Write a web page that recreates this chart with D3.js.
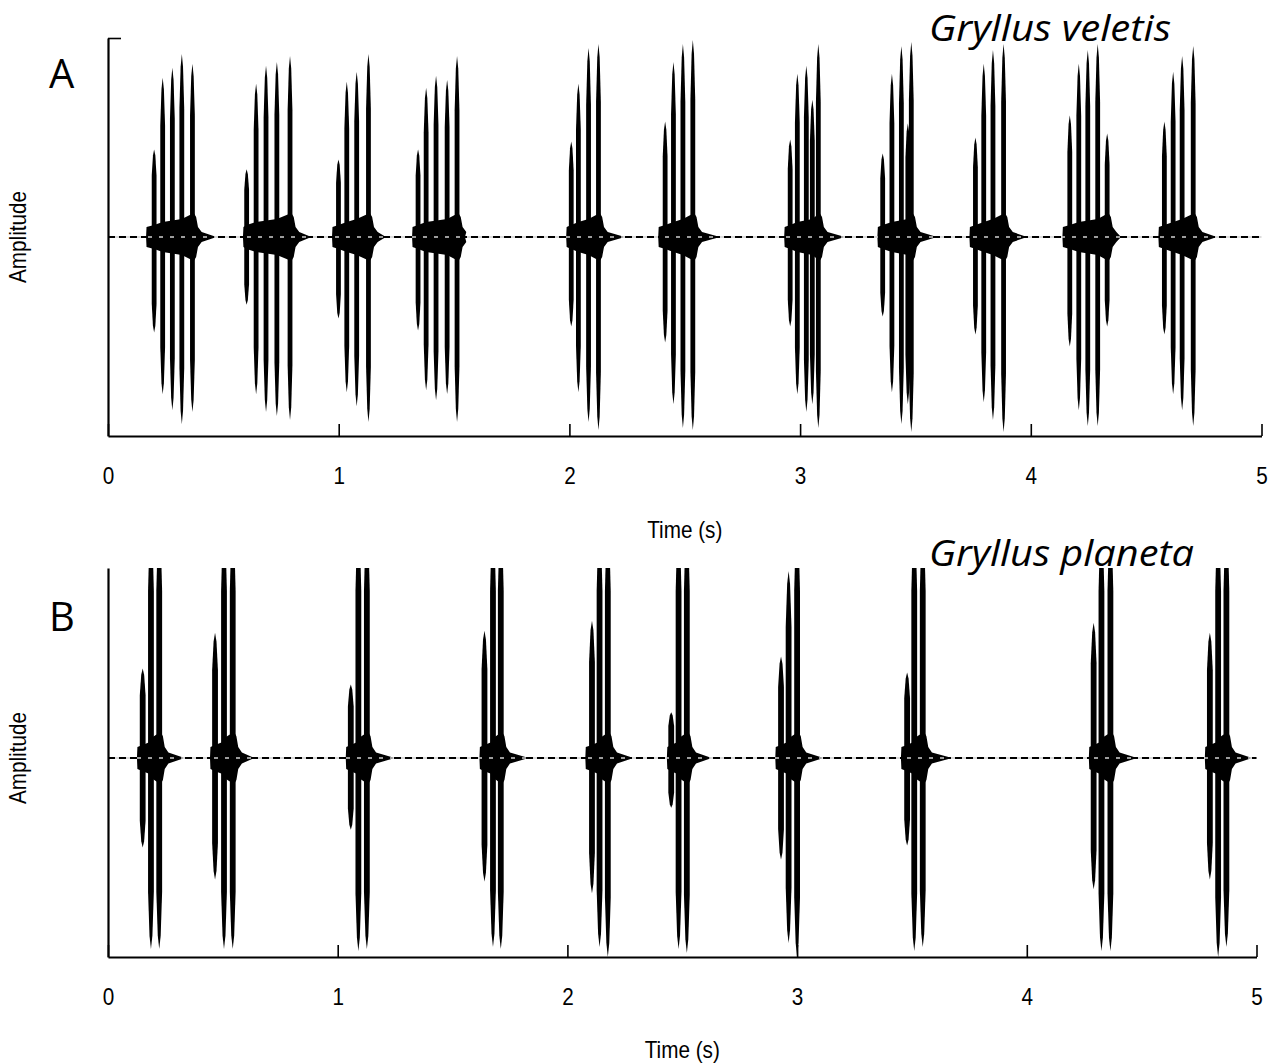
<!DOCTYPE html>
<html><head><meta charset="utf-8">
<script src="https://cdn.jsdelivr.net/npm/d3@7"></script>
<style>
body{margin:0;background:#fff}
svg{display:block;background:#fff}
.ax text{font-family:"Liberation Sans Narrow","Arial Narrow","Liberation Sans",sans-serif;font-size:23px;fill:#000}
.lbl{font-family:"Liberation Sans Narrow","Arial Narrow","Liberation Sans",sans-serif;font-size:23px;fill:#000}
.title{font-family:"Open Sans",sans-serif;font-style:italic;font-size:37px;fill:#000}
.panel{font-family:"Open Sans",sans-serif;font-size:40px;fill:#000}
</style>
</head><body>
<svg id="chart" width="1272" height="1064"></svg>
<script>
// ---------- data ----------
const timeTicks = [0, 1, 2, 3, 4, 5];
const tickLabels = ["0", "1", "2", "3", "4", "5"];
const speciesNames = ["Gryllus veletis", "Gryllus planeta"];
const panelLetters = ["A", "B"];
const xTitle = "Time (s)";
const yTitle = "Amplitude";

// Gryllus veletis: pulse onset times (s) per chirp, positive / negative peak amplitude
const veletisPulseTimes = [
  [0.200, 0.237, 0.279, 0.320, 0.366],
  [0.601, 0.642, 0.685, 0.732, 0.789],
  [0.999, 1.035, 1.078, 1.129],
  [1.344, 1.379, 1.422, 1.470, 1.513],
  [2.008, 2.039, 2.083, 2.126],
  [2.415, 2.451, 2.492, 2.535],
  [2.957, 2.988, 3.027, 3.053, 3.079],
  [3.358, 3.398, 3.439, 3.467, 3.482],
  [3.760, 3.796, 3.836, 3.882],
  [4.169, 4.208, 4.247, 4.290, 4.331],
  [4.579, 4.617, 4.656, 4.704]
];
const veletisPulseUp = [
  [0.44, 0.80, 0.85, 0.92, 0.87],
  [0.34, 0.77, 0.86, 0.88, 0.91],
  [0.39, 0.78, 0.83, 0.92],
  [0.44, 0.75, 0.81, 0.79, 0.91],
  [0.48, 0.77, 0.95, 0.97],
  [0.58, 0.88, 0.97, 0.99],
  [0.49, 0.82, 0.86, 0.69, 0.97],
  [0.42, 0.82, 0.96, 0.57, 0.98],
  [0.50, 0.87, 0.94, 0.97],
  [0.61, 0.87, 0.94, 0.97, 0.52],
  [0.58, 0.83, 0.91, 0.96]
];
const veletisPulseDown = [
  [0.48, 0.79, 0.87, 0.94, 0.88],
  [0.34, 0.79, 0.88, 0.90, 0.92],
  [0.41, 0.78, 0.85, 0.93],
  [0.47, 0.77, 0.82, 0.79, 0.93],
  [0.45, 0.78, 0.93, 0.97],
  [0.53, 0.84, 0.96, 0.97],
  [0.45, 0.79, 0.88, 0.84, 0.96],
  [0.40, 0.78, 0.94, 0.84, 0.98],
  [0.49, 0.83, 0.92, 0.98],
  [0.55, 0.87, 0.95, 0.95, 0.45],
  [0.49, 0.79, 0.87, 0.95]
];
const veletisChirpStart = [0.165, 0.585, 0.971, 1.318, 1.986, 2.385, 2.931, 3.335, 3.734, 4.137, 4.553];
const veletisChirpEnd   = [0.464, 0.876, 1.201, 1.548, 2.233, 2.645, 3.187, 3.586, 3.977, 4.389, 4.800];

// Gryllus planeta
const planetaPulseTimes = [
  [0.151, 0.187, 0.223],
  [0.466, 0.505, 0.543],
  [1.057, 1.090, 1.127],
  [1.639, 1.676, 1.710],
  [2.107, 2.140, 2.176],
  [2.452, 2.484, 2.520],
  [2.930, 2.963, 3.000],
  [3.479, 3.510, 3.547],
  [4.291, 4.325, 4.364],
  [4.797, 4.833, 4.869]
];
const planetaPulseUp = [
  [0.45, 1.2, 1.2], [0.63, 1.2, 1.2], [0.37, 1.2, 1.2], [0.64, 1.2, 1.2], [0.69, 1.2, 1.2],
  [0.23, 1.2, 1.2], [0.51, 0.94, 1.2], [0.43, 1.2, 1.2], [0.68, 1.2, 1.2], [0.63, 1.2, 1.2]
];
const planetaPulseDown = [
  [0.45, 0.96, 0.96], [0.61, 0.96, 0.96], [0.36, 0.97, 0.96], [0.62, 0.95, 0.96], [0.68, 0.95, 1.0],
  [0.25, 0.96, 0.98], [0.51, 0.93, 1.0], [0.44, 0.97, 0.95], [0.66, 0.97, 0.97], [0.61, 1.0, 0.95]
];
const planetaChirpStart = [0.126, 0.444, 1.035, 1.617, 2.078, 2.433, 2.905, 3.452, 4.270, 4.775];
const planetaChirpEnd   = [0.327, 0.632, 1.241, 1.824, 2.281, 2.622, 3.108, 3.667, 4.473, 4.974];

// ---------- drawing ----------
const svg = d3.select("#chart");
const pulseShape = [[-1, 0], [-1, 0.7], [-0.5, 0.93], [0, 1], [0.5, 0.93], [1, 0.7], [1, 0]];
const narrow = 0.9;

function bodyPts(start, end, ts, k) {
  const n = ts.length, last = ts[n - 1];
  return [
    [start, 0], [start + 0.002, 0.05 * k], [ts[0], 0.06 * k], [ts[1], 0.075 * k],
    [ts[n - 2], 0.09 * k], [last + 0.006, 0.12 * k], [last + 0.016, 0.1 * k],
    [last + 0.024, 0.05 * k], [last + 0.04, 0.025 * k], [end, 0.003]
  ];
}

function drawPanel(p) {
  const x = d3.scaleLinear().domain([0, 5]).range([p.x0, p.x1]);
  const y = d3.scaleLinear().domain(p.yDomain).range([p.yBottom, p.yTop]);
  const g = svg.append("g");
  svg.append("clipPath").attr("id", "clip" + p.id)
    .append("rect").attr("x", p.x0).attr("y", p.yTop)
    .attr("width", p.x1 - p.x0 + 2).attr("height", p.yBottom - p.yTop);
  const marks = g.append("g").attr("clip-path", `url(#clip${p.id})`);

  const body = d3.area().x(d => x(d[0])).y0(d => y(-d[1])).y1(d => y(d[1]));
  p.starts.forEach((s, i) => {
    marks.append("path").attr("d", body(bodyPts(s, p.ends[i], p.times[i], p.bodyK))).attr("fill", "#000");
  });
  const pulse = d3.area().x(d => d.x).y0(d => y(-d.down)).y1(d => y(d.up));
  p.times.forEach((ts, i) => ts.forEach((t, j) => {
    const pts = pulseShape.map(([dx, f]) => ({ x: x(t) + dx * p.hw, up: p.up[i][j] * f, down: p.down[i][j] * f }));
    marks.append("path").attr("d", pulse(pts)).attr("fill", "#000");
  }));

  // zero line
  g.append("line").attr("x1", p.x0).attr("x2", p.x1).attr("y1", y(0)).attr("y2", y(0))
    .attr("stroke", "#d0d0d0").attr("stroke-width", 1.6);
  g.append("line").attr("x1", p.x0).attr("x2", p.x1).attr("y1", y(0)).attr("y2", y(0))
    .attr("stroke", "#000").attr("stroke-width", 2).attr("stroke-dasharray", "7,4");

  // axes
  const xa = g.append("g").attr("class", "ax").attr("transform", `translate(0,${p.yBottom})`)
    .call(d3.axisBottom(x).tickValues(timeTicks).tickFormat((d, i) => tickLabels[i])
      .tickSize(-12).tickSizeOuter(0).tickPadding(32));
  xa.select(".domain").attr("stroke-width", 2.2);
  xa.selectAll(".tick line").attr("stroke-width", 1.6);
  xa.selectAll(".tick text").attr("transform", `scale(${narrow},1)`);
  const ya = g.append("g").attr("class", "ax").attr("transform", `translate(${p.x0},0)`)
    .call(d3.axisLeft(y).tickValues(p.yTicks).tickFormat("").tickSize(-13).tickSizeOuter(0));
  ya.select(".domain").attr("stroke-width", 2.2);
  ya.selectAll(".tick line").attr("stroke-width", 1.6);

  g.append("text").attr("class", "lbl")
    .attr("transform", `translate(${(p.x0 + p.x1) / 2},${p.xTitleY}) scale(${narrow},1)`)
    .attr("text-anchor", "middle").text(xTitle);
  g.append("text").attr("class", "lbl")
    .attr("transform", `translate(26,${y(0)}) rotate(-90) scale(${narrow},1)`)
    .attr("text-anchor", "middle").text(yTitle);
  g.append("text").attr("class", "panel").attr("x", 49).attr("y", p.letterY).text(p.letter);
  g.append("text").attr("class", "title").attr("x", 929).attr("y", p.titleY)
    .attr("textLength", p.titleW).attr("lengthAdjust", "spacingAndGlyphs").text(p.title);
}

drawPanel({
  id: "A", x0: 108, x1: 1261.5, yTop: 38, yBottom: 436, yDomain: [-1, 1], yTicks: [1],
  times: veletisPulseTimes, up: veletisPulseUp, down: veletisPulseDown,
  starts: veletisChirpStart, ends: veletisChirpEnd, hw: 2.4, bodyK: 1,
  xTitleY: 538, letterY: 88, letter: panelLetters[0], titleY: 40.5, titleW: 242, title: speciesNames[0]
});
drawPanel({
  id: "B", x0: 108, x1: 1256.5, yTop: 568, yBottom: 957, yDomain: [-1, 0.955], yTicks: [],
  times: planetaPulseTimes, up: planetaPulseUp, down: planetaPulseDown,
  starts: planetaChirpStart, ends: planetaChirpEnd, hw: 2.9, bodyK: 1.1,
  xTitleY: 1058, letterY: 631, letter: panelLetters[1], titleY: 566, titleW: 265, title: speciesNames[1]
});
</script>
</body></html>
